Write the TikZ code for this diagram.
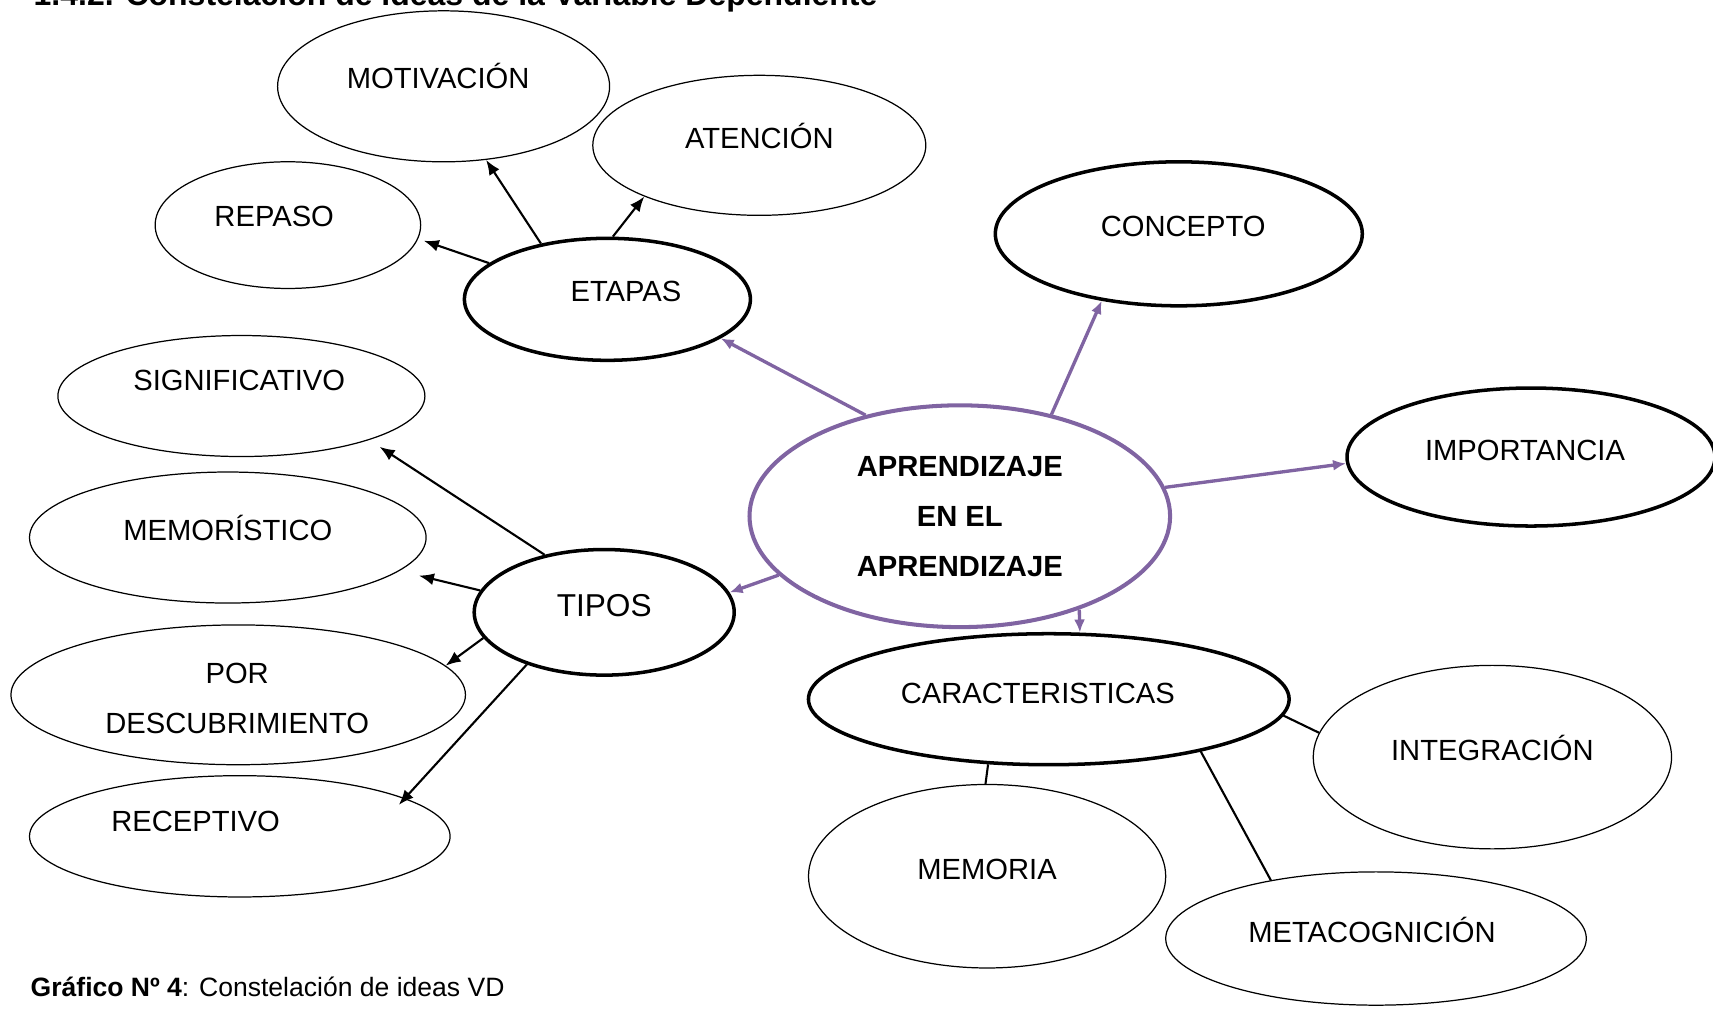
\documentclass[tikz,border=0pt]{standalone}
\usepackage{fontspec}
\setmainfont{Liberation Sans}
\usepackage{tikz}
\usetikzlibrary{shapes,arrows.meta,positioning}
\definecolor{lila}{RGB}{128,100,162}

\begin{document}
\begin{tikzpicture}[x=0.1mm, y=-0.1mm,
  idea/.style={ellipse, draw, line width=0.35pt, inner sep=0pt},
  key/.style={ellipse, draw, line width=1pt, inner sep=0pt},
  core/.style={ellipse, draw=lila, line width=1.15pt, inner sep=0pt},
  lbl/.style={font=\fontsize{8.3}{14.2}\selectfont, text height=2.1mm, text depth=0pt, inner sep=0pt},
  rama/.style={draw=lila, line width=0.95pt, -{Latex[length=1.3mm,width=1.1mm]}},
  hoja/.style={line width=0.6pt, -{Latex[length=1.5mm,width=1.2mm]}},
  enlace/.style={line width=0.6pt}]
\useasboundingbox (0,0) rectangle (1713,1008);
\node[anchor=base west, inner sep=0pt, font=\bfseries\fontsize{9.1}{11}\selectfont] (titulo) at (33,5) {1.4.2. Constelación de ideas de la Variable Dependiente};
\node[anchor=base west, inner sep=0pt, font=\fontsize{7.55}{9}\selectfont] (fuente) at (30,996) {\textbf{Gráfico Nº 4}: Constelación de ideas VD};
% centro
\node[core, minimum width=42.06mm, minimum height=22.18mm, align=center,
  font=\bfseries\fontsize{8.3}{14.2}\selectfont] (nucleo) at (959.8,516.2) {APRENDIZAJE\\EN EL\\APRENDIZAJE};
% ramas principales
\node[key, minimum width=28.6mm, minimum height=12.2mm, label={[lbl, shift={(18.6,-8.7)}]center:ETAPAS}] (etapas) at (607.4,299.3) {};
\node[key, minimum width=36.7mm, minimum height=14.4mm, label={[lbl, shift={(4.4,-7.7)}]center:CONCEPTO}] (concepto) at (1178.8,233.8) {};
\node[key, minimum width=36.8mm, minimum height=13.8mm, label={[lbl, shift={(-6,-7)}]center:IMPORTANCIA}] (importancia) at (1531,457) {};
\node[key, minimum width=26mm, minimum height=12.56mm, label={[lbl, font=\fontsize{9}{14.2}\selectfont, shift={(0,-6)}]center:TIPOS}] (tipos) at (604.2,612.3) {};
\node[key, minimum width=48.07mm, minimum height=13.1mm, label={[lbl, shift={(-11,-6.6)}]center:CARACTERISTICAS}] (caract) at (1048.8,699.2) {};
% etapas
\node[idea, minimum width=33.2mm, minimum height=15.1mm, label={[lbl, shift={(-5.5,-8.7)}]center:MOTIVACIÓN}] (motivacion) at (443.6,86.3) {};
\node[idea, minimum width=33.3mm, minimum height=14mm, label={[lbl, shift={(0,-7.6)}]center:ATENCIÓN}] (atencion) at (759.3,145.3) {};
\node[idea, minimum width=26.55mm, minimum height=12.67mm, label={[lbl, shift={(-13.7,-8.8)}]center:REPASO}] (repaso) at (287.9,225.1) {};
% tipos
\node[idea, minimum width=36.7mm, minimum height=12.1mm, label={[lbl, shift={(-2.2,-15.8)}]center:SIGNIFICATIVO}] (significativo) at (241.4,396) {};
\node[idea, minimum width=39.66mm, minimum height=13.1mm, label={[lbl, shift={(0,-7.6)}]center:MEMORÍSTICO}] (memoristico) at (227.8,537.5) {};
\node[idea, minimum width=45.45mm, minimum height=13.98mm, label={[inner sep=0pt, align=center, font=\fontsize{8.3}{14.2}\selectfont, shift={(-1,3.3)}]center:POR\\DESCUBRIMIENTO}] (descubrimiento) at (238.2,694.8) {};
\node[idea, minimum width=42.06mm, minimum height=12.13mm, label={[lbl, shift={(-44.2,-15.8)}]center:RECEPTIVO}] (receptivo) at (239.8,836.3) {};
% caracteristicas
\node[idea, minimum width=35.83mm, minimum height=18.35mm, label={[lbl, shift={(0,-7.6)}]center:INTEGRACIÓN}] (integracion) at (1492.4,757.1) {};
\node[idea, minimum width=35.72mm, minimum height=18.35mm, label={[lbl, shift={(0,-7.6)}]center:MEMORIA}] (memoria) at (987.1,876.2) {};
\node[idea, minimum width=42.06mm, minimum height=13.33mm, label={[lbl, shift={(-4,-6.5)}]center:METACOGNICIÓN}] (metacognicion) at (1376,938.5) {};
% conectores
\draw[rama] (nucleo.133.7) -- (etapas.341.7);
\draw[rama] (nucleo.48.5) -- (concepto.221.4);
\draw[rama] (nucleo.8.3) -- (importancia.182.3);
\draw[rama] (nucleo.198) -- (tipos.9.3);
\draw[rama] (nucleo.322.2) -- (caract.65);
\draw[hoja, shorten >=0.6mm] (etapas.163.8) -- (repaso.354.1);
\draw[hoja] (etapas.140.2) -- (motivacion.300.7);
\draw[hoja] (etapas.85) -- (atencion.204.8);
\draw[hoja, shorten >=1.25mm] (tipos.136.4) -- (significativo.341.4);
\draw[hoja, shorten >=2mm] (tipos.170.5) -- (memoristico.349.7);
\draw[hoja] (tipos.192.6) -- (descubrimiento.8.5);
\draw[hoja, shorten >=-0.9mm] (tipos.214.3) -- (receptivo.13.1);
\draw[enlace] (caract.356) -- (integracion.172.8);
\draw[enlace] (caract.227.5) -- (memoria.91);
\draw[enlace] (caract.341.4) -- (metacognicion.151.5);
\end{tikzpicture}
\end{document}
